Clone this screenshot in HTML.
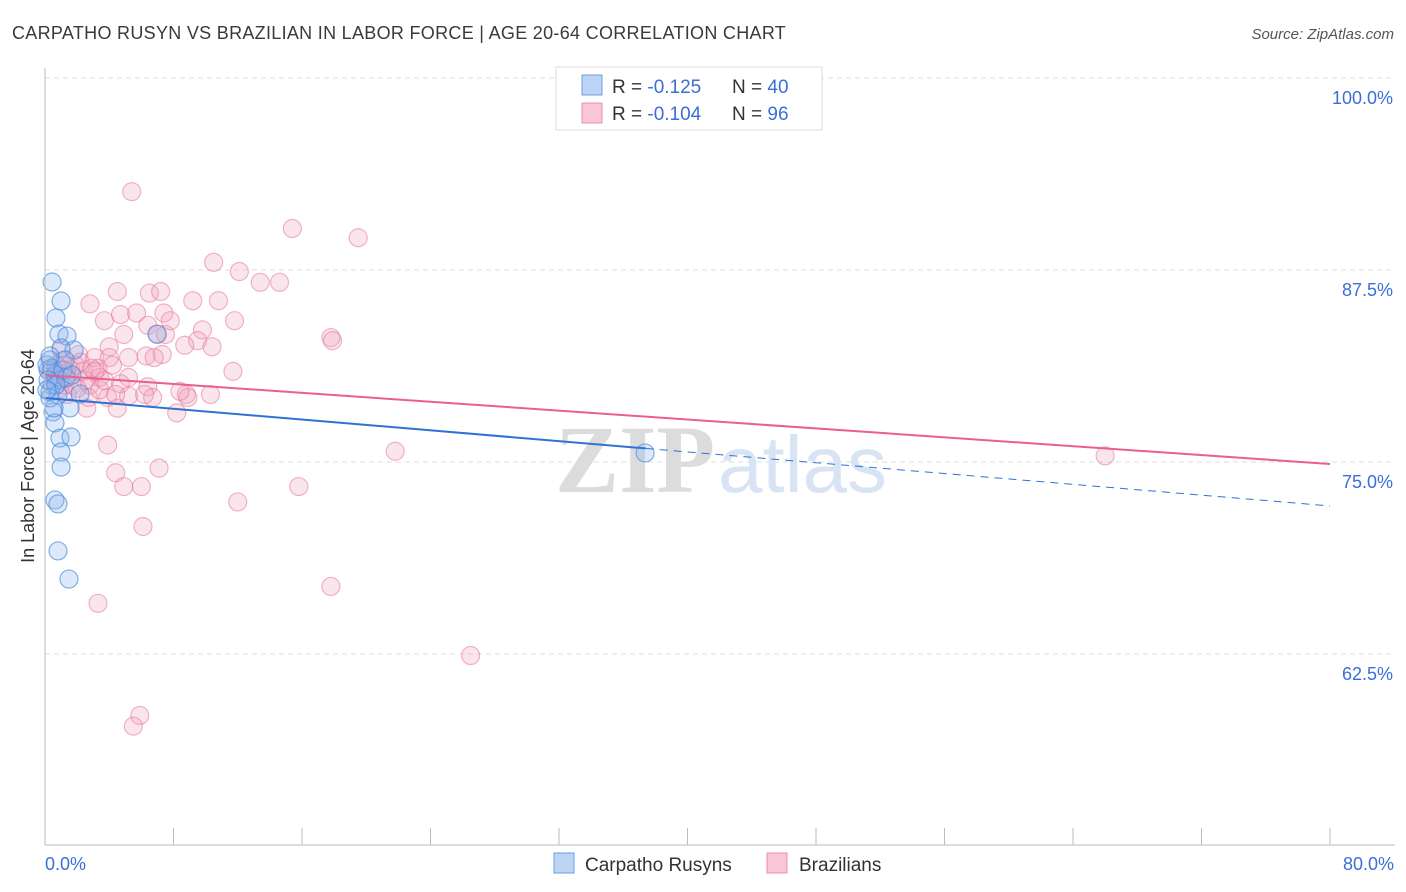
<!DOCTYPE html>
<html><head><meta charset="utf-8">
<style>
body{margin:0;background:#fff;font-family:"Liberation Sans",sans-serif;}
svg{display:block}
</style></head><body>
<svg id="chart" width="1406" height="892" xmlns="http://www.w3.org/2000/svg">
<text x="12" y="39" font-size="18" fill="#3a3a3a" letter-spacing="0.3">CARPATHO RUSYN VS BRAZILIAN IN LABOR FORCE | AGE 20-64 CORRELATION CHART</text>
<text x="1394" y="39" font-size="15" fill="#555" font-style="italic" text-anchor="end">Source: ZipAtlas.com</text>
<g id="grid"></g>
<text x="555" y="492" font-size="96" font-family="Liberation Serif,serif" font-weight="bold" fill="#dcdcdc">ZIP</text>
<text x="718" y="492" font-size="80" fill="#d8e4f4">atlas</text>
<g id="points"></g>
<g id="lines"></g>
<line x1="45" y1="68" x2="45" y2="845" stroke="#bbb"/>
<line x1="45" y1="845" x2="1395" y2="845" stroke="#bbb"/>
<g id="xticks"></g>
<text x="45" y="870" font-size="18" fill="#3a6fd8">0.0%</text>
<text x="1394" y="870" font-size="18" fill="#3a6fd8" text-anchor="end">80.0%</text>
<text transform="translate(34,456) rotate(-90)" font-size="18" fill="#333" text-anchor="middle">In Labor Force | Age 20-64</text>
<g>
<rect x="556" y="67" width="266" height="63" fill="#fff" stroke="#ddd"/>
<rect x="582" y="75" width="20" height="20" fill="#bcd5f5" stroke="#6a9fe0"/>
<rect x="582" y="103" width="20" height="20" fill="#f8c6d6" stroke="#ec8fae"/>
<text x="612" y="93" font-size="19" fill="#333">R = <tspan fill="#3a6fd8">-0.125</tspan><tspan x="732">N = </tspan><tspan fill="#3a6fd8">40</tspan></text>
<text x="612" y="120" font-size="19" fill="#333">R = <tspan fill="#3a6fd8">-0.104</tspan><tspan x="732">N = </tspan><tspan fill="#3a6fd8"> 96</tspan></text>
</g>
<g>
<rect x="554" y="853" width="20" height="20" fill="#bcd5f5" stroke="#6a9fe0"/>
<text x="585" y="871" font-size="19" fill="#333">Carpatho Rusyns</text>
<rect x="767" y="853" width="20" height="20" fill="#f8c6d6" stroke="#ec8fae"/>
<text x="799" y="871" font-size="19" fill="#333">Brazilians</text>
</g>
</svg>
<script>
const yTicks=[62.5,75,87.5,100];
const yTickLabels=["62.5%","75.0%","87.5%","100.0%"];
const rusynX=[0.44,1.0,0.68,0.87,1.37,1.0,1.81,6.97,0.31,0.19,0.62,0.44,0.93,1.31,0.31,0.81,1.56,2.18,0.5,0.62,0.93,1.62,1.0,1.0,0.62,0.81,0.81,1.49,37.36,0.12,0.44,0.19,0.68,1.12,0.31,0.56,0.12,1.25,1.68,0.31];
const rusynY=[86.72,85.48,84.38,83.33,83.2,82.42,82.29,83.33,81.64,80.99,80.66,80.01,80.34,80.47,79.56,79.36,78.52,79.43,78.26,77.54,76.56,76.63,75.65,74.67,72.53,72.27,69.21,67.38,75.59,81.32,81.12,80.34,80.01,80.99,79.17,78.52,79.69,81.64,80.66,81.9];
const brazX=[5.4,15.4,19.5,10.5,12.1,13.4,14.6,4.5,6.5,7.2,2.8,9.2,10.8,3.7,4.7,5.7,7.4,6.4,11.8,4.9,7.0,9.8,9.5,7.5,10.4,17.8,17.9,4.0,1.0,2.1,3.1,4.0,6.3,7.3,6.8,11.7,1.4,2.4,3.3,4.2,5.2,3.4,2.8,4.7,6.4,8.8,8.9,6.7,5.2,3.9,2.7,4.5,2.6,8.2,3.9,21.8,66.0,4.4,7.1,4.9,6.0,15.8,12.0,6.1,17.8,3.3,26.5,5.9,5.5,0.6,0.9,1.6,1.9,0.8,1.2,2.5,0.3,1.1,1.7,3.4,2.2,2.9,1.4,0.7,8.4,5.2,3.7,2.0,3.1,4.4,6.2,8.7,7.8,10.3,0.4,1.3];
const brazY=[92.6,90.2,89.6,88.0,87.4,86.7,86.7,86.1,86.0,86.1,85.3,85.5,85.5,84.2,84.6,84.7,84.7,83.9,84.2,83.3,83.3,83.6,82.9,83.3,82.5,83.1,82.9,82.5,82.3,82.0,81.8,81.8,81.9,82.0,81.8,80.9,81.2,80.9,81.1,81.3,80.5,80.5,80.0,80.1,79.9,79.4,79.2,79.2,79.3,79.2,79.2,78.5,78.5,78.2,76.1,75.7,75.4,74.3,74.6,73.4,73.4,73.4,72.4,70.8,66.9,65.8,62.4,58.5,57.8,80.3,80.7,81.0,81.3,79.7,80.0,80.3,80.9,81.6,80.0,79.7,81.5,81.1,79.4,81.3,79.6,81.8,80.3,79.8,80.9,79.4,79.4,82.6,84.2,79.4,81.0,80.6];
const rusynTrend=[79.17,72.14]; // y at x=0, x=80
const brazTrend=[80.66,74.87];
const rusynSolidEnd=37.4;
const NS="http://www.w3.org/2000/svg";
const X=v=>45+v*(1285/80);
const Y=v=>78+(100-v)*15.36;
function mk(tag,attrs,parent){const e=document.createElementNS(NS,tag);for(const k in attrs)e.setAttribute(k,attrs[k]);parent.appendChild(e);return e;}
const grid=document.getElementById('grid');
yTicks.forEach((t,i)=>{
 const l=mk('line',{x1:45,x2:1395,y1:Y(t),y2:Y(t),stroke:'#ddd','stroke-dasharray':'5,4'},grid);
 
 
 const tx=mk('text',{x:1393,y:Y(t)+26,'font-size':18,fill:'#3a6fd8','text-anchor':'end'},grid);
 tx.textContent=yTickLabels[i];
 
 
});
const xt=document.getElementById('xticks');
for(let k=0;k<=10;k++){const l=mk('line',{x1:X(k*8),x2:X(k*8),y1:828,y2:845,stroke:'#bbb'},xt);
 
 }
const pts=document.getElementById('points');
brazX.forEach((x,i)=>{const c=mk('circle',{cx:X(x),cy:Y(brazY[i]),r:9,fill:'rgba(242,160,188,0.28)',stroke:'rgba(230,120,158,0.55)','stroke-width':1.2},pts);
 
 });
rusynX.forEach((x,i)=>{const c=mk('circle',{cx:X(x),cy:Y(rusynY[i]),r:9,fill:'rgba(140,182,238,0.3)',stroke:'rgba(70,135,220,0.65)','stroke-width':1.2},pts);
 
 });
const ln=document.getElementById('lines');
const by=x=>rusynTrend[0]+(rusynTrend[1]-rusynTrend[0])*x/80;
let a=mk('line',{x1:X(0),y1:Y(by(0)),x2:X(rusynSolidEnd),y2:Y(by(rusynSolidEnd)),stroke:'#2f72d6','stroke-width':2},ln);


a=mk('line',{x1:X(rusynSolidEnd),y1:Y(by(rusynSolidEnd)),x2:X(80),y2:Y(by(80)),stroke:'#2f72d6','stroke-width':1,'stroke-dasharray':'8,6'},ln);


a=mk('line',{x1:X(0),y1:Y(brazTrend[0]),x2:X(80),y2:Y(brazTrend[1]),stroke:'#e8608e','stroke-width':2},ln);


</script>
</body></html>
